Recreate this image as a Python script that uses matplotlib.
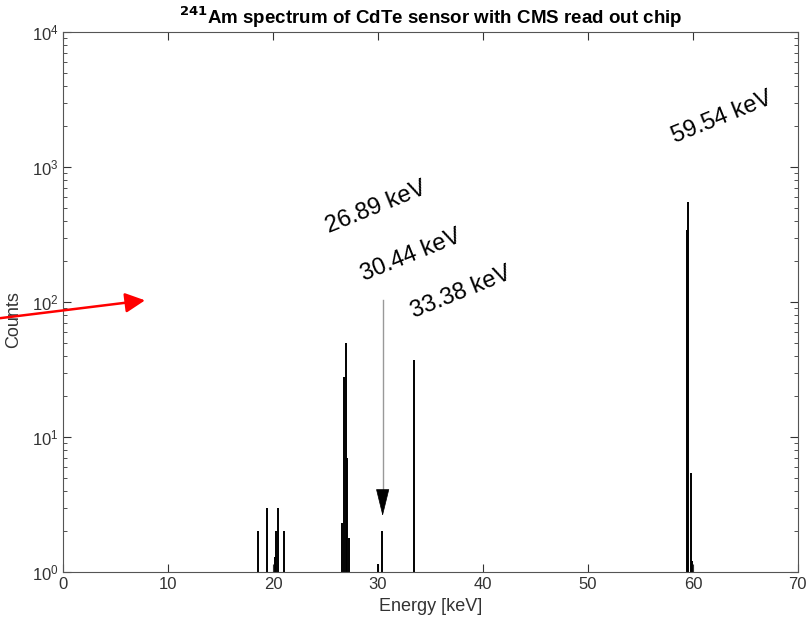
import matplotlib.pyplot as plt

plt.rcParams['font.family'] = ['Liberation Sans', 'DejaVu Sans']

# spectrum lines: energy [keV] and counts
energy = [18.6, 19.4, 20.2, 20.3, 20.5, 21.0,
          26.6, 26.8, 26.9, 27.0, 27.2,
          29.95, 30.4, 33.38,
          59.45, 59.54, 59.8, 59.9]
counts = [2.0, 3.0, 1.3, 2.0, 3.0, 2.0,
          2.3, 28.0, 50.0, 7.0, 1.8,
          1.15, 2.0, 37.0,
          340.0, 550.0, 5.4, 1.2]

peak_labels = ["26.89 keV", "30.44 keV", "33.38 keV", "59.54 keV"]
label_pos = [(29.8, 500), (33.1, 223), (37.9, 118), (62.8, 2340)]

fig = plt.figure(figsize=(8.1, 6.28), dpi=100)
ax = fig.add_axes([0.078, 0.089, 0.907, 0.86])

ax.vlines(energy, 1, counts, colors='black', linewidth=1.4)

ax.set_yscale('log')
ax.set_xlim(0, 70)
ax.set_ylim(1, 1e4)
ax.set_xticks(range(0, 71, 10))
ax.tick_params(which='both', direction='in', top=True, right=True,
               labelsize=12, colors='#333333')
ax.tick_params(which='major', length=6)
ax.tick_params(which='minor', length=3)
for s in ax.spines.values():
    s.set_color('#555555')

ax.set_xlabel('Energy [keV]', fontsize=13, color='#333333')
ax.set_ylabel('Counts', fontsize=13, color='#333333')
ax.yaxis.set_label_coords(-0.056, 0.467)
ax.set_title('$^{\\mathbf{241}}$Am spectrum of CdTe sensor with CMS read out chip',
             fontsize=13.5, fontweight='bold', pad=6)

for lab, (x, y) in zip(peak_labels, label_pos):
    ax.text(x, y, lab, fontsize=17, rotation=22, ha='center', va='center')

# arrow pointing at the 30.44 keV line: grey shaft, black head
ax.plot([30.44, 30.44], [103, 3.3], color='#999999', lw=1)
ax.annotate('', xy=(30.44, 2.6), xytext=(30.44, 3.6),
            arrowprops=dict(arrowstyle='-|>,head_length=0.9,head_width=0.22',
                            color='black', lw=0.5, mutation_scale=20,
                            shrinkA=0, shrinkB=0))

# red arrow from outside the axes
ax.annotate('', xy=(7.8, 103), xytext=(-6.0, 76),
            xycoords='data', textcoords='data', annotation_clip=False,
            arrowprops=dict(arrowstyle='-|>,head_length=0.6,head_width=0.3',
                            color='red', lw=1.8, mutation_scale=20,
                            shrinkA=0, shrinkB=0))

fig.savefig('out.png', dpi=100)
